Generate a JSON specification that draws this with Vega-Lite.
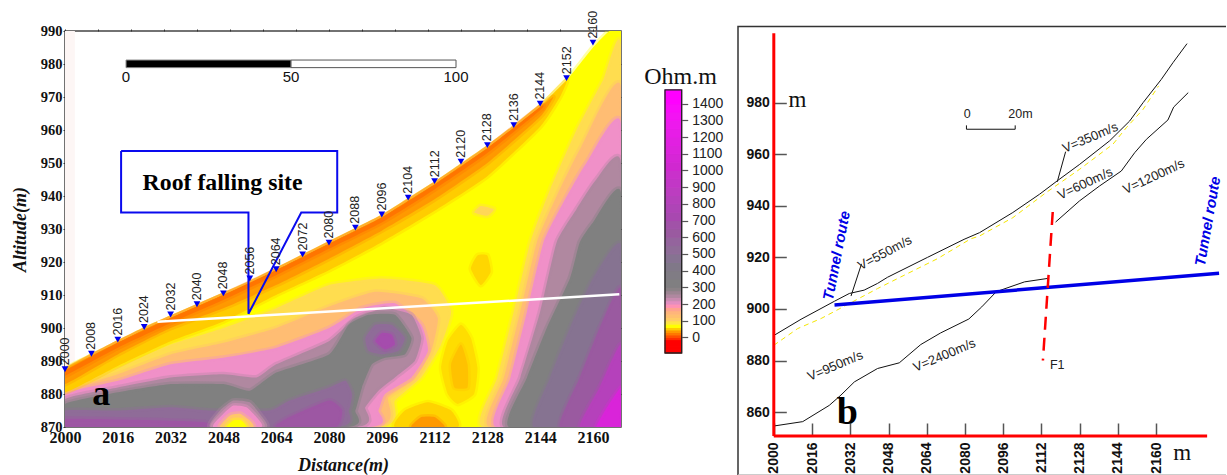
{
"$schema":"https://vega.github.io/schema/vega-lite/v6.json",
"background":"white",
"padding":{"left":11,"top":9,"right":0,"bottom":0},
"bounds":"flush",
"spacing":44,
"config":{"view":{"stroke":null},"text":{"font":"Liberation Sans"}},
"datasets":{
"stations":[{"x":2000,"y":887.5,"s":"2000"},{"x":2008,"y":892.2,"s":"2008"},{"x":2016,"y":896.5,"s":"2016"},{"x":2024,"y":900.3,"s":"2024"},{"x":2032,"y":904.1,"s":"2032"},{"x":2040,"y":907.2,"s":"2040"},{"x":2048,"y":910.5,"s":"2048"},{"x":2056,"y":915,"s":"2056"},{"x":2064,"y":917.8,"s":"2064"},{"x":2072,"y":922.3,"s":"2072"},{"x":2080,"y":925.9,"s":"2080"},{"x":2088,"y":930.4,"s":"2088"},{"x":2096,"y":934.4,"s":"2096"},{"x":2104,"y":939.5,"s":"2104"},{"x":2112,"y":944.5,"s":"2112"},{"x":2120,"y":950.4,"s":"2120"},{"x":2128,"y":955.4,"s":"2128"},{"x":2136,"y":961.5,"s":"2136"},{"x":2144,"y":968,"s":"2144"},{"x":2152,"y":975.7,"s":"2152"},{"x":2160,"y":986.5,"s":"2160"}],
"poly":[
{"id":1,"ohm":60,"x":2000,"y":887},{"id":1,"ohm":60,"x":2008,"y":891.5},{"id":1,"ohm":60,"x":2016,"y":895.5},{"id":1,"ohm":60,"x":2024,"y":899.5},{"id":1,"ohm":60,"x":2032,"y":903},{"id":1,"ohm":60,"x":2040,"y":906.5},{"id":1,"ohm":60,"x":2048,"y":910},{"id":1,"ohm":60,"x":2056,"y":913.5},{"id":1,"ohm":60,"x":2064,"y":917.5},{"id":1,"ohm":60,"x":2072,"y":921.5},{"id":1,"ohm":60,"x":2080,"y":925.5},{"id":1,"ohm":60,"x":2088,"y":929.5},{"id":1,"ohm":60,"x":2096,"y":933.5},{"id":1,"ohm":60,"x":2104,"y":938.5},{"id":1,"ohm":60,"x":2112,"y":943.5},{"id":1,"ohm":60,"x":2120,"y":949},{"id":1,"ohm":60,"x":2128,"y":954.5},{"id":1,"ohm":60,"x":2136,"y":960.5},{"id":1,"ohm":60,"x":2144,"y":967},{"id":1,"ohm":60,"x":2152,"y":975},{"id":1,"ohm":60,"x":2160,"y":985},{"id":1,"ohm":60,"x":2165,"y":990},{"id":1,"ohm":60,"x":2168.5,"y":990},{"id":1,"ohm":60,"x":2168.5,"y":870},{"id":1,"ohm":60,"x":2000,"y":870},

{"id":2,"ohm":85,"x":2000,"y":881},{"id":2,"ohm":85,"x":2016,"y":888},{"id":2,"ohm":85,"x":2032,"y":895},{"id":2,"ohm":85,"x":2048,"y":900},{"id":2,"ohm":85,"x":2064,"y":906},{"id":2,"ohm":85,"x":2080,"y":913},{"id":2,"ohm":85,"x":2096,"y":915},{"id":2,"ohm":85,"x":2112,"y":913},{"id":2,"ohm":85,"x":2117,"y":905},{"id":2,"ohm":85,"x":2114,"y":895},{"id":2,"ohm":85,"x":2108,"y":885},{"id":2,"ohm":85,"x":2100,"y":878},{"id":2,"ohm":85,"x":2095,"y":870},{"id":2,"ohm":85,"x":2000,"y":870},

{"id":32,"ohm":125,"x":2000,"y":880.5},{"id":32,"ohm":125,"x":2016,"y":886},{"id":32,"ohm":125,"x":2032,"y":892},{"id":32,"ohm":125,"x":2048,"y":895.5},{"id":32,"ohm":125,"x":2064,"y":900},{"id":32,"ohm":125,"x":2080,"y":906.5},{"id":32,"ohm":125,"x":2094,"y":911},{"id":32,"ohm":125,"x":2108,"y":909},{"id":32,"ohm":125,"x":2113,"y":903},{"id":32,"ohm":125,"x":2111,"y":893},{"id":32,"ohm":125,"x":2106,"y":884.5},{"id":32,"ohm":125,"x":2098,"y":879},{"id":32,"ohm":125,"x":2094,"y":870},{"id":32,"ohm":125,"x":2000,"y":870},

{"id":3,"ohm":190,"x":2000,"y":880},{"id":3,"ohm":190,"x":2016,"y":884},{"id":3,"ohm":190,"x":2032,"y":889},{"id":3,"ohm":190,"x":2048,"y":891},{"id":3,"ohm":190,"x":2064,"y":894},{"id":3,"ohm":190,"x":2080,"y":900},{"id":3,"ohm":190,"x":2090,"y":906},{"id":3,"ohm":190,"x":2100,"y":907.5},{"id":3,"ohm":190,"x":2108,"y":901},{"id":3,"ohm":190,"x":2110,"y":893},{"id":3,"ohm":190,"x":2105,"y":885},{"id":3,"ohm":190,"x":2097,"y":880},{"id":3,"ohm":190,"x":2095,"y":875},{"id":3,"ohm":190,"x":2092,"y":870},{"id":3,"ohm":190,"x":2000,"y":870},

{"id":4,"ohm":240,"x":2000,"y":878.5},{"id":4,"ohm":240,"x":2016,"y":882},{"id":4,"ohm":240,"x":2032,"y":885},{"id":4,"ohm":240,"x":2048,"y":886},{"id":4,"ohm":240,"x":2058,"y":885},{"id":4,"ohm":240,"x":2064,"y":889},{"id":4,"ohm":240,"x":2080,"y":896},{"id":4,"ohm":240,"x":2088,"y":903},{"id":4,"ohm":240,"x":2097,"y":906},{"id":4,"ohm":240,"x":2105,"y":904},{"id":4,"ohm":240,"x":2108,"y":897},{"id":4,"ohm":240,"x":2106,"y":890},{"id":4,"ohm":240,"x":2100,"y":885},{"id":4,"ohm":240,"x":2095,"y":881},{"id":4,"ohm":240,"x":2091,"y":876},{"id":4,"ohm":240,"x":2088,"y":870},{"id":4,"ohm":240,"x":2000,"y":870},

{"id":5,"ohm":290,"x":2000,"y":877},{"id":5,"ohm":290,"x":2016,"y":880.5},{"id":5,"ohm":290,"x":2032,"y":883},{"id":5,"ohm":290,"x":2048,"y":883},{"id":5,"ohm":290,"x":2056,"y":881},{"id":5,"ohm":290,"x":2064,"y":886.5},{"id":5,"ohm":290,"x":2080,"y":892},{"id":5,"ohm":290,"x":2086,"y":901},{"id":5,"ohm":290,"x":2092,"y":904},{"id":5,"ohm":290,"x":2100,"y":904},{"id":5,"ohm":290,"x":2105,"y":897},{"id":5,"ohm":290,"x":2103,"y":892},{"id":5,"ohm":290,"x":2097,"y":891},{"id":5,"ohm":290,"x":2093,"y":889},{"id":5,"ohm":290,"x":2090,"y":882},{"id":5,"ohm":290,"x":2088,"y":875},{"id":5,"ohm":290,"x":2085,"y":870},{"id":5,"ohm":290,"x":2000,"y":870},

{"id":6,"ohm":500,"x":2000,"y":875},{"id":6,"ohm":500,"x":2016,"y":875},{"id":6,"ohm":500,"x":2032,"y":876},{"id":6,"ohm":500,"x":2044,"y":875},{"id":6,"ohm":500,"x":2062,"y":875},{"id":6,"ohm":500,"x":2068,"y":878},{"id":6,"ohm":500,"x":2080,"y":882},{"id":6,"ohm":500,"x":2085,"y":884},{"id":6,"ohm":500,"x":2087,"y":880},{"id":6,"ohm":500,"x":2086,"y":875},{"id":6,"ohm":500,"x":2082,"y":870},{"id":6,"ohm":500,"x":2000,"y":870},
{"id":7,"ohm":620,"x":2000,"y":872.5},{"id":7,"ohm":620,"x":2030,"y":872},{"id":7,"ohm":620,"x":2042,"y":871.5},{"id":7,"ohm":620,"x":2044,"y":870},{"id":7,"ohm":620,"x":2000,"y":870},
{"id":8,"ohm":620,"x":2064,"y":870},{"id":8,"ohm":620,"x":2068,"y":873},{"id":8,"ohm":620,"x":2080,"y":878},{"id":8,"ohm":620,"x":2084,"y":875},{"id":8,"ohm":620,"x":2082,"y":870},

{"id":9,"ohm":500,"x":2091,"y":897},{"id":9,"ohm":500,"x":2094,"y":901},{"id":9,"ohm":500,"x":2099,"y":901},{"id":9,"ohm":500,"x":2103,"y":897},{"id":9,"ohm":500,"x":2101,"y":893},{"id":9,"ohm":500,"x":2096,"y":892},{"id":9,"ohm":500,"x":2092,"y":893},
{"id":10,"ohm":680,"x":2094,"y":896},{"id":10,"ohm":680,"x":2096,"y":898.5},{"id":10,"ohm":680,"x":2099,"y":898},{"id":10,"ohm":680,"x":2100,"y":895},{"id":10,"ohm":680,"x":2097,"y":893.5},

{"id":11,"ohm":240,"x":2044,"y":870},{"id":11,"ohm":240,"x":2047,"y":875},{"id":11,"ohm":240,"x":2051,"y":878},{"id":11,"ohm":240,"x":2056,"y":877.5},{"id":11,"ohm":240,"x":2059,"y":874},{"id":11,"ohm":240,"x":2061,"y":870},
{"id":12,"ohm":190,"x":2045,"y":870},{"id":12,"ohm":190,"x":2048,"y":874},{"id":12,"ohm":190,"x":2051,"y":876.5},{"id":12,"ohm":190,"x":2055,"y":876},{"id":12,"ohm":190,"x":2058,"y":873},{"id":12,"ohm":190,"x":2059.5,"y":870},
{"id":13,"ohm":110,"x":2047,"y":870},{"id":13,"ohm":110,"x":2050,"y":873.5},{"id":13,"ohm":110,"x":2053,"y":874},{"id":13,"ohm":110,"x":2056,"y":872},{"id":13,"ohm":110,"x":2057,"y":870},
{"id":14,"ohm":60,"x":2049,"y":870},{"id":14,"ohm":60,"x":2051,"y":872},{"id":14,"ohm":60,"x":2053.5,"y":872},{"id":14,"ohm":60,"x":2055,"y":870},

{"id":15,"ohm":85,"x":2126.5,"y":870},{"id":15,"ohm":85,"x":2131,"y":885},{"id":15,"ohm":85,"x":2136,"y":905},{"id":15,"ohm":85,"x":2141,"y":926},{"id":15,"ohm":85,"x":2147,"y":942},{"id":15,"ohm":85,"x":2155,"y":960},{"id":15,"ohm":85,"x":2163,"y":975},{"id":15,"ohm":85,"x":2168.5,"y":985},{"id":15,"ohm":85,"x":2168.5,"y":870},
{"id":33,"ohm":125,"x":2128.5,"y":870},{"id":33,"ohm":125,"x":2133,"y":885},{"id":33,"ohm":125,"x":2138,"y":905},{"id":33,"ohm":125,"x":2143,"y":926},{"id":33,"ohm":125,"x":2149,"y":940},{"id":33,"ohm":125,"x":2156.5,"y":955},{"id":33,"ohm":125,"x":2168.5,"y":973},{"id":33,"ohm":125,"x":2168.5,"y":870},
{"id":16,"ohm":190,"x":2130.5,"y":870},{"id":16,"ohm":190,"x":2135,"y":885},{"id":16,"ohm":190,"x":2140,"y":905},{"id":16,"ohm":190,"x":2145,"y":926},{"id":16,"ohm":190,"x":2151,"y":938},{"id":16,"ohm":190,"x":2158,"y":950},{"id":16,"ohm":190,"x":2168.5,"y":962},{"id":16,"ohm":190,"x":2168.5,"y":870},
{"id":17,"ohm":240,"x":2133,"y":870},{"id":17,"ohm":240,"x":2138,"y":885},{"id":17,"ohm":240,"x":2144,"y":905},{"id":17,"ohm":240,"x":2149,"y":926},{"id":17,"ohm":240,"x":2155,"y":936},{"id":17,"ohm":240,"x":2161,"y":945},{"id":17,"ohm":240,"x":2168.5,"y":950},{"id":17,"ohm":240,"x":2168.5,"y":870},
{"id":18,"ohm":290,"x":2134.5,"y":870},{"id":18,"ohm":290,"x":2140,"y":885},{"id":18,"ohm":290,"x":2146,"y":900},{"id":18,"ohm":290,"x":2153,"y":915},{"id":18,"ohm":290,"x":2156,"y":926},{"id":18,"ohm":290,"x":2160,"y":932},{"id":18,"ohm":290,"x":2168.5,"y":941},{"id":18,"ohm":290,"x":2168.5,"y":870},
{"id":19,"ohm":450,"x":2142,"y":870},{"id":19,"ohm":450,"x":2147,"y":885},{"id":19,"ohm":450,"x":2153,"y":900},{"id":19,"ohm":450,"x":2160,"y":915},{"id":19,"ohm":450,"x":2168.5,"y":925},{"id":19,"ohm":450,"x":2168.5,"y":870},
{"id":20,"ohm":600,"x":2150,"y":870},{"id":20,"ohm":600,"x":2156,"y":885},{"id":20,"ohm":600,"x":2162,"y":900},{"id":20,"ohm":600,"x":2168.5,"y":912},{"id":20,"ohm":600,"x":2168.5,"y":870},
{"id":21,"ohm":800,"x":2156,"y":870},{"id":21,"ohm":800,"x":2162,"y":882},{"id":21,"ohm":800,"x":2168.5,"y":895},{"id":21,"ohm":800,"x":2168.5,"y":870},
{"id":22,"ohm":1080,"x":2161,"y":870},{"id":22,"ohm":1080,"x":2168.5,"y":882},{"id":22,"ohm":1080,"x":2168.5,"y":870},

{"id":23,"ohm":47,"x":2100,"y":870},{"id":23,"ohm":47,"x":2103,"y":875},{"id":23,"ohm":47,"x":2110,"y":877.5},{"id":23,"ohm":47,"x":2117,"y":875},{"id":23,"ohm":47,"x":2119,"y":870},
{"id":24,"ohm":30,"x":2105,"y":870},{"id":24,"ohm":30,"x":2108,"y":873},{"id":24,"ohm":30,"x":2112,"y":873},{"id":24,"ohm":30,"x":2115,"y":870},
{"id":25,"ohm":50,"x":2116,"y":880},{"id":25,"ohm":50,"x":2114,"y":888},{"id":25,"ohm":50,"x":2116,"y":896},{"id":25,"ohm":50,"x":2120,"y":901},{"id":25,"ohm":50,"x":2123,"y":897},{"id":25,"ohm":50,"x":2125,"y":888},{"id":25,"ohm":50,"x":2124,"y":880},{"id":25,"ohm":50,"x":2119,"y":877},
{"id":26,"ohm":42,"x":2118,"y":882},{"id":26,"ohm":42,"x":2117,"y":889},{"id":26,"ohm":42,"x":2120,"y":895},{"id":26,"ohm":42,"x":2122,"y":889},{"id":26,"ohm":42,"x":2122,"y":882},
{"id":27,"ohm":48,"x":2123,"y":918},{"id":27,"ohm":48,"x":2125,"y":922},{"id":27,"ohm":48,"x":2128,"y":922},{"id":27,"ohm":48,"x":2129,"y":917},{"id":27,"ohm":48,"x":2126,"y":913},
{"id":28,"ohm":90,"x":2124,"y":935},{"id":28,"ohm":90,"x":2126,"y":937},{"id":28,"ohm":90,"x":2130,"y":936},{"id":28,"ohm":90,"x":2128,"y":934},

{"id":29,"ohm":45,"x":2000,"y":887},{"id":29,"ohm":45,"x":2008,"y":891.5},{"id":29,"ohm":45,"x":2016,"y":895.5},{"id":29,"ohm":45,"x":2024,"y":899.5},{"id":29,"ohm":45,"x":2032,"y":903},{"id":29,"ohm":45,"x":2040,"y":906.5},{"id":29,"ohm":45,"x":2048,"y":910},{"id":29,"ohm":45,"x":2056,"y":913.5},{"id":29,"ohm":45,"x":2064,"y":917.5},{"id":29,"ohm":45,"x":2072,"y":921.5},{"id":29,"ohm":45,"x":2080,"y":925.5},{"id":29,"ohm":45,"x":2088,"y":929.5},{"id":29,"ohm":45,"x":2096,"y":933.5},{"id":29,"ohm":45,"x":2104,"y":938.5},{"id":29,"ohm":45,"x":2112,"y":943.5},{"id":29,"ohm":45,"x":2120,"y":949},{"id":29,"ohm":45,"x":2128,"y":954.5},{"id":29,"ohm":45,"x":2136,"y":960.5},{"id":29,"ohm":45,"x":2144,"y":967},{"id":29,"ohm":45,"x":2152,"y":975},{"id":29,"ohm":45,"x":2150,"y":970},{"id":29,"ohm":45,"x":2144,"y":961},{"id":29,"ohm":45,"x":2128,"y":946},{"id":29,"ohm":45,"x":2112,"y":935.5},{"id":29,"ohm":45,"x":2096,"y":926},{"id":29,"ohm":45,"x":2080,"y":917.5},{"id":29,"ohm":45,"x":2064,"y":910},{"id":29,"ohm":45,"x":2048,"y":902},{"id":29,"ohm":45,"x":2032,"y":896},{"id":29,"ohm":45,"x":2016,"y":888.5},{"id":29,"ohm":45,"x":2000,"y":880.5},

{"id":30,"ohm":30,"x":2000,"y":887},{"id":30,"ohm":30,"x":2008,"y":891.5},{"id":30,"ohm":30,"x":2016,"y":895.5},{"id":30,"ohm":30,"x":2024,"y":899.5},{"id":30,"ohm":30,"x":2032,"y":903},{"id":30,"ohm":30,"x":2040,"y":906.5},{"id":30,"ohm":30,"x":2048,"y":910},{"id":30,"ohm":30,"x":2056,"y":913.5},{"id":30,"ohm":30,"x":2064,"y":917.5},{"id":30,"ohm":30,"x":2072,"y":921.5},{"id":30,"ohm":30,"x":2080,"y":925.5},{"id":30,"ohm":30,"x":2088,"y":929.5},{"id":30,"ohm":30,"x":2096,"y":933.5},{"id":30,"ohm":30,"x":2104,"y":938.5},{"id":30,"ohm":30,"x":2112,"y":943.5},{"id":30,"ohm":30,"x":2120,"y":949},{"id":30,"ohm":30,"x":2128,"y":954.5},{"id":30,"ohm":30,"x":2136,"y":960.5},{"id":30,"ohm":30,"x":2144,"y":967},{"id":30,"ohm":30,"x":2148,"y":970},{"id":30,"ohm":30,"x":2144,"y":964},{"id":30,"ohm":30,"x":2128,"y":950},{"id":30,"ohm":30,"x":2112,"y":939},{"id":30,"ohm":30,"x":2096,"y":929.5},{"id":30,"ohm":30,"x":2080,"y":921},{"id":30,"ohm":30,"x":2064,"y":913},{"id":30,"ohm":30,"x":2048,"y":906},{"id":30,"ohm":30,"x":2032,"y":900},{"id":30,"ohm":30,"x":2016,"y":892},{"id":30,"ohm":30,"x":2000,"y":883},

{"id":31,"ohm":14,"x":2000,"y":887},{"id":31,"ohm":14,"x":2016,"y":895.5},{"id":31,"ohm":14,"x":2032,"y":903},{"id":31,"ohm":14,"x":2048,"y":910},{"id":31,"ohm":14,"x":2064,"y":917.5},{"id":31,"ohm":14,"x":2080,"y":925.5},{"id":31,"ohm":14,"x":2096,"y":933.5},{"id":31,"ohm":14,"x":2112,"y":943.5},{"id":31,"ohm":14,"x":2128,"y":954.5},{"id":31,"ohm":14,"x":2144,"y":967},{"id":31,"ohm":14,"x":2144,"y":966},{"id":31,"ohm":14,"x":2128,"y":953},{"id":31,"ohm":14,"x":2112,"y":942},{"id":31,"ohm":14,"x":2096,"y":932},{"id":31,"ohm":14,"x":2080,"y":924},{"id":31,"ohm":14,"x":2064,"y":916},{"id":31,"ohm":14,"x":2048,"y":908.5},{"id":31,"ohm":14,"x":2032,"y":901.5},{"id":31,"ohm":14,"x":2016,"y":894},{"id":31,"ohm":14,"x":2000,"y":885.5}
]
},
"hconcat":[
{
"width":556,"height":396,
"view":{"stroke":"#444","strokeWidth":1.5},
"resolve":{"axis":{"x":"independent","y":"independent"}},
"encoding":{
"x":{"field":"x","type":"quantitative","scale":{"domain":[2000,2168.5],"nice":false,"zero":false},"axis":null},
"y":{"field":"y","type":"quantitative","scale":{"domain":[870,990],"nice":false,"zero":false},"axis":null}
},
"layer":[
{"data":{"values":[{"x":2000,"x2":2003,"y":870,"y2":990}]},"mark":{"type":"rect","fill":"#fdf6f5"},
"encoding":{"x2":{"field":"x2"},"y2":{"field":"y2"},
"x":{"field":"x","type":"quantitative","axis":{"orient":"bottom","title":"Distance(m)","titleFont":"Liberation Serif","titleFontStyle":"italic","titleFontWeight":"bold","titleFontSize":18,"titleColor":"#111","titlePadding":11,"values":[2000,2016,2032,2048,2064,2080,2096,2112,2128,2144,2160],"format":"d","labelFont":"Liberation Serif","labelFontWeight":"bold","labelFontSize":16,"labelColor":"#111","labelPadding":2,"tickSize":0,"domain":false,"grid":false,"labelOverlap":false,"labelFlush":false}},
"y":{"field":"y","type":"quantitative","axis":{"orient":"left","title":"Altitude(m)","titleFont":"Liberation Serif","titleFontStyle":"italic","titleFontWeight":"bold","titleFontSize":18,"titleColor":"#111","titlePadding":10.5,"values":[870,880,890,900,910,920,930,940,950,960,970,980,990],"format":"d","labelFont":"Liberation Serif","labelFontWeight":"bold","labelFontSize":14.5,"labelColor":"#111","labelPadding":1,"tickSize":2,"tickColor":"#333","domain":false,"grid":false,"labelOverlap":false,"labelFlush":false}}}},
{"data":{"name":"poly"},"mark":{"type":"line","interpolate":"cardinal-closed","tension":0.5,"clip":true,"strokeWidth":5,"strokeOpacity":0.35,"strokeCap":"round","strokeJoin":"round"},
"encoding":{"order":{"value":null},"detail":{"field":"id"},
"fill":{"field":"ohm","type":"quantitative","legend":null,"scale":{"domain":[-93,-20,0,30,60,100,150,190,240,290,400,500,600,700,1000,1400],"range":["#ff0000","#ff0000","#ff5000","#ff9900","#ffff00","#ffcc66","#ffb080","#f090c8","#b088a0","#808080","#807888","#8f6c98","#9a5aa0","#a848b0","#d028d0","#ff00ff"]}},
"stroke":{"field":"ohm","type":"quantitative","legend":null,"scale":{"domain":[-93,-20,0,30,60,100,150,190,240,290,400,500,600,700,1000,1400],"range":["#ff0000","#ff0000","#ff5000","#ff9900","#ffff00","#ffcc66","#ffb080","#f090c8","#b088a0","#808080","#807888","#8f6c98","#9a5aa0","#a848b0","#d028d0","#ff00ff"]}}}},
{"data":{"values":[{"x":2028,"y":901.9},{"x":2168,"y":910.2}]},"mark":{"type":"line","color":"white","strokeWidth":2.5},"encoding":{}},
{"data":{"values":[{"x":2017,"y":953.6},{"x":2082.5,"y":953.6},{"x":2082.5,"y":935},{"x":2071.6,"y":935},{"x":2055.6,"y":904.3},{"x":2055.6,"y":935},{"x":2017,"y":935},{"x":2017,"y":953.6}]},"mark":{"type":"line","color":"#0a0aee","strokeWidth":2},"encoding":{"order":{"value":null}}},
{"data":{"values":[{"x":2018.5,"x2":2068.5,"y":981.2,"y2":978.9}]},"mark":{"type":"rect","fill":"black","stroke":"#888","strokeWidth":1},"encoding":{"x2":{"field":"x2"},"y2":{"field":"y2"}}},
{"data":{"values":[{"x":2068.5,"x2":2118.5,"y":981.2,"y2":978.9}]},"mark":{"type":"rect","fill":"white","stroke":"#555","strokeWidth":1},"encoding":{"x2":{"field":"x2"},"y2":{"field":"y2"}}},
{"data":{"values":[{"x":2018.5,"y":976,"t":"0"},{"x":2068.5,"y":976,"t":"50"},{"x":2118.5,"y":976,"t":"100"}]},"mark":{"type":"text","fontSize":15,"font":"Liberation Sans","color":"#111","baseline":"middle"},"encoding":{"text":{"field":"t"}}},
{"data":{"values":[{"x":2023.5,"y":944,"t":"Roof falling site"}]},"mark":{"type":"text","font":"Liberation Serif","fontWeight":"bold","fontSize":23.8,"align":"left","baseline":"middle","color":"#000"},"encoding":{"text":{"field":"t"}}},
{"data":{"values":[{"x":2011,"y":880,"t":"a"}]},"mark":{"type":"text","font":"Liberation Serif","fontWeight":"bold","fontSize":36,"baseline":"middle","color":"#000"},"encoding":{"text":{"field":"t"}}},
{"data":{"name":"stations"},"mark":{"type":"point","shape":"triangle-down","filled":true,"color":"#0000ee","size":45,"opacity":1}},
{"data":{"name":"stations"},"mark":{"type":"text","angle":270,"align":"left","baseline":"middle","dx":4,"fontSize":12.5,"font":"Liberation Sans","color":"#222"},"encoding":{"text":{"field":"s"}}},
{"data":{"values":[{"x":2000,"y":870},{"x":2168.5,"y":990}]},"mark":{"type":"point","opacity":0},
"encoding":{
"x":{"field":"x","type":"quantitative","axis":{"orient":"top","title":null,"labels":false,"values":[2000,2010,2020,2030,2040,2050,2060,2070,2080,2090,2100,2110,2120,2130,2140,2150,2160],"tickSize":2,"tickColor":"#333","domain":false,"grid":false}},
"y":{"field":"y","type":"quantitative","axis":{"orient":"right","title":null,"labels":false,"values":[880,890,900,910,920,930,940,950,960,970,980],"tickSize":-3,"tickColor":"#333","domain":false,"grid":false}}}}
]
},
{
"width":28.5,"height":322,
"resolve":{"axis":{"x":"independent","y":"independent"}},
"encoding":{
"x":{"field":"a","type":"quantitative","scale":{"domain":[0,28.5],"nice":false,"zero":false},"axis":null},
"y":{"field":"v","type":"quantitative","scale":{"domain":[-93,1835],"nice":false,"zero":false},"axis":null}
},
"layer":[
{"data":{"values":[{"a":0,"b":16.7,"v":-93,"w":-73},{"a":0,"b":16.7,"v":-73,"w":-53},{"a":0,"b":16.7,"v":-53,"w":-33},{"a":0,"b":16.7,"v":-33,"w":-13},{"a":0,"b":16.7,"v":-13,"w":0},{"a":0,"b":16.7,"v":0,"w":15},{"a":0,"b":16.7,"v":15,"w":30},{"a":0,"b":16.7,"v":30,"w":45},{"a":0,"b":16.7,"v":45,"w":60},{"a":0,"b":16.7,"v":60,"w":80},{"a":0,"b":16.7,"v":80,"w":100},{"a":0,"b":16.7,"v":100,"w":120},{"a":0,"b":16.7,"v":120,"w":140},{"a":0,"b":16.7,"v":140,"w":160},{"a":0,"b":16.7,"v":160,"w":180},{"a":0,"b":16.7,"v":180,"w":200},{"a":0,"b":16.7,"v":200,"w":220},{"a":0,"b":16.7,"v":220,"w":240},{"a":0,"b":16.7,"v":240,"w":260},{"a":0,"b":16.7,"v":260,"w":280},{"a":0,"b":16.7,"v":280,"w":300},{"a":0,"b":16.7,"v":300,"w":350},{"a":0,"b":16.7,"v":350,"w":400},{"a":0,"b":16.7,"v":400,"w":450},{"a":0,"b":16.7,"v":450,"w":500},{"a":0,"b":16.7,"v":500,"w":550},{"a":0,"b":16.7,"v":550,"w":600},{"a":0,"b":16.7,"v":600,"w":650},{"a":0,"b":16.7,"v":650,"w":700},{"a":0,"b":16.7,"v":700,"w":750},{"a":0,"b":16.7,"v":750,"w":800},{"a":0,"b":16.7,"v":800,"w":850},{"a":0,"b":16.7,"v":850,"w":900},{"a":0,"b":16.7,"v":900,"w":950},{"a":0,"b":16.7,"v":950,"w":1000},{"a":0,"b":16.7,"v":1000,"w":1050},{"a":0,"b":16.7,"v":1050,"w":1100},{"a":0,"b":16.7,"v":1100,"w":1150},{"a":0,"b":16.7,"v":1150,"w":1200},{"a":0,"b":16.7,"v":1200,"w":1250},{"a":0,"b":16.7,"v":1250,"w":1300},{"a":0,"b":16.7,"v":1300,"w":1350},{"a":0,"b":16.7,"v":1350,"w":1400},{"a":0,"b":16.7,"v":1400,"w":1482}]},
"mark":{"type":"rect","strokeWidth":1},
"encoding":{
"x2":{"field":"b"},
"y":{"field":"v","type":"quantitative","axis":{"orient":"right","offset":-11.8,"title":null,"values":[0,100,200,300,400,500,600,700,800,900,1000,1100,1200,1300,1400],"format":"d","labelFont":"Liberation Sans","labelFontSize":14,"labelColor":"#222","labelPadding":4,"tickSize":6,"tickColor":"#555","tickWidth":1.2,"domain":false,"grid":false,"labelOverlap":false,"labelFlush":false}},
"y2":{"field":"w"},
"fill":{"field":"v","type":"quantitative","legend":null,"scale":{"domain":[-93,-20,0,30,60,100,150,190,240,290,400,500,600,700,1000,1400],"range":["#ff0000","#ff0000","#ff5000","#ff9900","#ffff00","#ffcc66","#ffb080","#f090c8","#b088a0","#808080","#807888","#8f6c98","#9a5aa0","#a848b0","#d028d0","#ff00ff"]}},
"stroke":{"field":"v","type":"quantitative","legend":null,"scale":{"domain":[-93,-20,0,30,60,100,150,190,240,290,400,500,600,700,1000,1400],"range":["#ff0000","#ff0000","#ff5000","#ff9900","#ffff00","#ffcc66","#ffb080","#f090c8","#b088a0","#808080","#807888","#8f6c98","#9a5aa0","#a848b0","#d028d0","#ff00ff"]}}}},
{"data":{"values":[{"a":0,"b":16.7,"v":-93,"w":1482}]},"mark":{"type":"rect","fill":null,"stroke":"#222","strokeWidth":1.3},"encoding":{"x2":{"field":"b"},"y2":{"field":"w"}}},
{"data":{"values":[{"a":15.5,"v":1560,"t":"Ohm.m"}]},"mark":{"type":"text","font":"Liberation Serif","fontSize":24,"color":"#111","baseline":"middle"},"encoding":{"text":{"field":"t"}}}
]
},
{
"width":488,"height":444,
"resolve":{"axis":{"x":"independent","y":"independent"}},
"encoding":{
"x":{"field":"x","type":"quantitative","scale":{"domain":[1985.02,2189.2],"nice":false,"zero":false},"axis":null},
"y":{"field":"y","type":"quantitative","scale":{"domain":[835.6,1007.8],"nice":false,"zero":false},"axis":null}
},
"layer":[
{"data":{"values":[{"x":1985.02,"y":835.6},{"x":1985.02,"y":1009.5},{"x":2189.2,"y":1009.5}]},"mark":{"type":"line","color":"#333","strokeWidth":1.5},"encoding":{"order":{"value":null},
"x":{"field":"x","type":"quantitative","axis":{"orient":"bottom","offset":-39,"title":null,"values":[2000,2016,2032,2048,2064,2080,2096,2112,2128,2144,2160],"format":"d","labelAngle":270,"labelFont":"Liberation Sans","labelFontWeight":"bold","labelFontSize":14,"labelColor":"#111","labelPadding":19,"tickSize":-13,"tickColor":"#555","tickWidth":1.5,"domain":false,"grid":false,"labelOverlap":false,"labelFlush":false}},
"y":{"field":"y","type":"quantitative","axis":{"orient":"left","offset":-35.8,"title":null,"values":[860,880,900,920,940,960,980],"format":"d","labelFont":"Liberation Sans","labelFontWeight":"bold","labelFontSize":14,"labelColor":"#111","labelPadding":17,"tickSize":-12.5,"tickColor":"#555","tickWidth":1.5,"domain":false,"grid":false,"labelOverlap":false,"labelFlush":false}}}},
{"data":{"values":[{"x":1985.02,"y":835.6},{"x":2189.2,"y":835.6}]},"mark":{"type":"line","color":"#bbb","strokeWidth":1.5,"clip":false},"encoding":{}},
{"data":{"values":[{"x":2000,"y":889.7},{"x":2011.4,"y":896},{"x":2025.4,"y":903},{"x":2031.6,"y":906},{"x":2037.8,"y":907.3},{"x":2043.4,"y":909.9},{"x":2047.6,"y":912.3},{"x":2064.3,"y":920},{"x":2079.6,"y":927},{"x":2086.1,"y":929.6},{"x":2100,"y":937.4},{"x":2111.2,"y":944.5},{"x":2118.9,"y":949.9},{"x":2128,"y":956.1},{"x":2140.5,"y":965.2},{"x":2148.9,"y":972.9},{"x":2154.5,"y":980},{"x":2162.1,"y":989},{"x":2167,"y":995.5},{"x":2172.9,"y":1002.9}]},"mark":{"type":"line","color":"#111","strokeWidth":1},"encoding":{}},
{"data":{"values":[{"x":2000,"y":885.9},{"x":2010,"y":892.4},{"x":2019.8,"y":896.3},{"x":2031.6,"y":902.1},{"x":2043.4,"y":907.9},{"x":2053.1,"y":912.4},{"x":2068.5,"y":919.5},{"x":2082.4,"y":927.2},{"x":2086.1,"y":928.3},{"x":2100,"y":935.4},{"x":2113.9,"y":945.1},{"x":2128,"y":954.2},{"x":2141.9,"y":963.9},{"x":2147.5,"y":970.3},{"x":2154.5,"y":977.4},{"x":2161,"y":986.5}]},"mark":{"type":"line","color":"#f5e600","strokeWidth":1,"strokeDash":[5,4]},"encoding":{}},
{"data":{"values":[{"x":2117.9,"y":933.7},{"x":2127.9,"y":941.9},{"x":2136.3,"y":947.7},{"x":2145.4,"y":953.5},{"x":2151,"y":960.6},{"x":2155.9,"y":965.8},{"x":2164.9,"y":973.3},{"x":2167.3,"y":978.3},{"x":2173.4,"y":983.9}]},"mark":{"type":"line","color":"#111","strokeWidth":1},"encoding":{}},
{"data":{"values":[{"x":2000,"y":854.6},{"x":2012.1,"y":856.3},{"x":2023.2,"y":862.6},{"x":2028.1,"y":866.6},{"x":2033.7,"y":871.7},{"x":2043.4,"y":876.9},{"x":2052.5,"y":879.1},{"x":2061.5,"y":886.2},{"x":2069.8,"y":890.7},{"x":2081.6,"y":896.1},{"x":2087,"y":900.8},{"x":2093.1,"y":906.7},{"x":2104.9,"y":910.5},{"x":2115,"y":911.9}]},"mark":{"type":"line","color":"#111","strokeWidth":1},"encoding":{}},
{"data":{"values":[{"x":2032.3,"y":905},{"x":2036.7,"y":917.5}]},"mark":{"type":"line","color":"#111","strokeWidth":1},"encoding":{}},
{"data":{"values":[{"x":2118.6,"y":949.3},{"x":2122.1,"y":961}]},"mark":{"type":"line","color":"#111","strokeWidth":1},"encoding":{}},
{"data":{"values":[{"x":2080.6,"y":971.2},{"x":2080.6,"y":969.7},{"x":2101,"y":969.7},{"x":2101,"y":971.2}]},"mark":{"type":"line","color":"#111","strokeWidth":1},"encoding":{"order":{"value":null}}},
{"data":{"values":[{"x":2025.4,"y":901.5},{"x":2186.3,"y":913.8}]},"mark":{"type":"line","color":"#0000e6","strokeWidth":3.5},"encoding":{}},
{"data":{"values":[{"x":2116.7,"y":937.6},{"x":2112.6,"y":880}]},"mark":{"type":"line","color":"#ff0000","strokeWidth":2.5,"strokeDash":[13,8]},"encoding":{"order":{"value":null}}},
{"data":{"values":[{"x":2000,"y":850.7},{"x":2000,"y":1006.9}]},"mark":{"type":"line","color":"#ff0000","strokeWidth":3},"encoding":{"order":{"value":null}}},
{"data":{"values":[{"x":2000,"y":850.7},{"x":2181.3,"y":850.7}]},"mark":{"type":"line","color":"#ff0000","strokeWidth":3},"encoding":{}},
{"data":{"values":[{"x":2046.5,"y":921.7,"t":"V=550m/s"}]},"mark":{"type":"text","angle":-28,"fontSize":13,"color":"#222","baseline":"middle"},"encoding":{"text":{"field":"t"}}},
{"data":{"values":[{"x":2025.7,"y":877.9,"t":"V=950m/s"}]},"mark":{"type":"text","angle":-23,"fontSize":13,"color":"#222","baseline":"middle"},"encoding":{"text":{"field":"t"}}},
{"data":{"values":[{"x":2071.4,"y":882,"t":"V=2400m/s"},{"x":2132.4,"y":966.4,"t":"V=350m/s"}]},"mark":{"type":"text","angle":-23,"fontSize":13,"color":"#222","baseline":"middle"},"encoding":{"text":{"field":"t"}}},
{"data":{"values":[{"x":2130.3,"y":948.6,"t":"V=600m/s"},{"x":2159,"y":951.3,"t":"V=1200m/s"}]},"mark":{"type":"text","angle":-25,"fontSize":13,"color":"#222","baseline":"middle"},"encoding":{"text":{"field":"t"}}},
{"data":{"values":[{"x":2118.6,"y":878.3,"t":"F1"},{"x":2080.9,"y":975.5,"t":"0"},{"x":2103.2,"y":975.5,"t":"20m"}]},"mark":{"type":"text","fontSize":12.5,"color":"#222","baseline":"middle"},"encoding":{"text":{"field":"t"}}},
{"data":{"values":[{"x":2026.2,"y":920.7,"t":"Tunnel route"}]},"mark":{"type":"text","angle":-79,"fontSize":15,"fontWeight":"bold","fontStyle":"italic","color":"#0000e6","baseline":"middle"},"encoding":{"text":{"field":"t"}}},
{"data":{"values":[{"x":2181.5,"y":934,"t":"Tunnel route"}]},"mark":{"type":"text","angle":-80,"fontSize":15,"fontWeight":"bold","fontStyle":"italic","color":"#0000e6","baseline":"middle"},"encoding":{"text":{"field":"t"}}},
{"data":{"values":[{"x":2009.9,"y":981,"t":"m"},{"x":2170.9,"y":844,"t":"m"}]},"mark":{"type":"text","font":"Liberation Serif","fontSize":23,"color":"#111","baseline":"middle"},"encoding":{"text":{"field":"t"}}},
{"data":{"values":[{"x":2030.8,"y":859.6,"t":"b"}]},"mark":{"type":"text","font":"Liberation Serif","fontWeight":"bold","fontSize":38,"color":"#000","baseline":"middle"},"encoding":{"text":{"field":"t"}}}
]
}
]
}
